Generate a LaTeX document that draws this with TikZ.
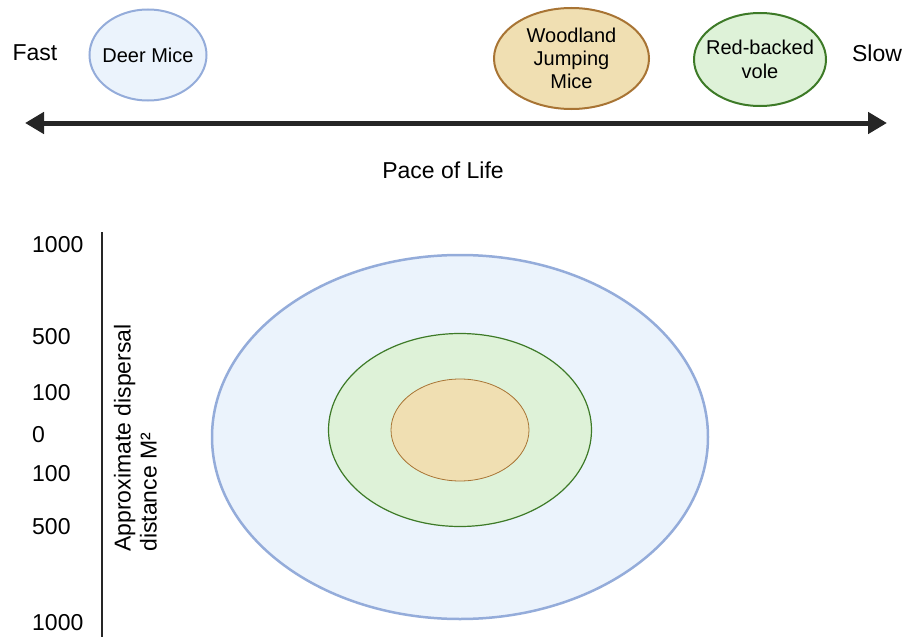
\documentclass[tikz,border=0pt]{standalone}
\usepackage{fontspec}
\setmainfont{Liberation Sans}
\usetikzlibrary{shapes.geometric,arrows.meta}

\definecolor{deerfill}{HTML}{EBF3FC}
\definecolor{deerline}{HTML}{94ACDA}
\definecolor{jumpfill}{HTML}{F0DFB2}
\definecolor{jumpline}{HTML}{A87434}
\definecolor{volefill}{HTML}{DEF2D8}
\definecolor{voleline}{HTML}{3D7A27}
\definecolor{axisgray}{HTML}{262626}

\tikzset{
  axistext/.style={font=\fontsize{23}{26}\selectfont, inner sep=0pt},
  species/.style={ellipse, draw, line width=2pt, inner xsep=-20pt, inner ysep=-10pt, align=center,
    font=\fontsize{20}{23.3}\selectfont},
  rangeoval/.style={ellipse, draw, inner sep=0pt}
}

\begin{document}
\begin{tikzpicture}[x=1pt, y=-1pt]
    \useasboundingbox (0,0) rectangle (906,637);
    % pace of life axis
    \node (fast) [axistext] at (35,53) {Fast};
    \node (slow) [axistext] at (877,53) {Slow};
    \node (deer) [species, fill=deerfill, draw=deerline, minimum width=117pt, minimum height=91pt] at (148,55) {Deer Mice};
    \node (jumping) [species, fill=jumpfill, draw=jumpline, minimum width=155pt, minimum height=101pt] at (571.5,58.5) {Woodland\\Jumping\\Mice};
    \node (vole) [species, fill=volefill, draw=voleline, minimum width=132pt, minimum height=93pt] at (760,59.5) {Red-backed\\vole};
    \coordinate (paceleft) at (25,123);
    \coordinate (paceright) at (887,123);
    \draw[{Triangle[length=19pt,width=21pt]}-{Triangle[length=19pt,width=21pt]}, line width=5pt, axisgray] (paceleft) -- (paceright);
    \node (pace) [axistext] at (443,170) {Pace of Life};
    % dispersal axis
    \coordinate (disptop) at (102,232);
    \coordinate (dispbottom) at (102,637);
    \draw[line width=2.5pt, axisgray] (disptop) -- (dispbottom);
    \foreach \val/\ypos [count=\i] in {1000/245, 500/337, 100/393, 0/435, 100/474, 500/527, 1000/623}
      \node (tick\i) [axistext, anchor=west] at (32,\ypos) {\val};
    \node (dispersal) [axistext, rotate=90, align=left] at (135.5,438) {Approximate dispersal\\distance M²};
    % dispersal ranges
    \node (deerrange) [rangeoval, fill=deerfill, draw=deerline, line width=2.5pt, minimum width=496pt, minimum height=364pt] at (460,437) {};
    \node (volerange) [rangeoval, fill=volefill, draw=voleline, line width=1.2pt, minimum width=263pt, minimum height=193pt] at (460,430) {};
    \node (jumprange) [rangeoval, fill=jumpfill, draw=jumpline, line width=0.8pt, minimum width=138pt, minimum height=102pt] at (460,430) {};
  \end{tikzpicture}
\end{document}
